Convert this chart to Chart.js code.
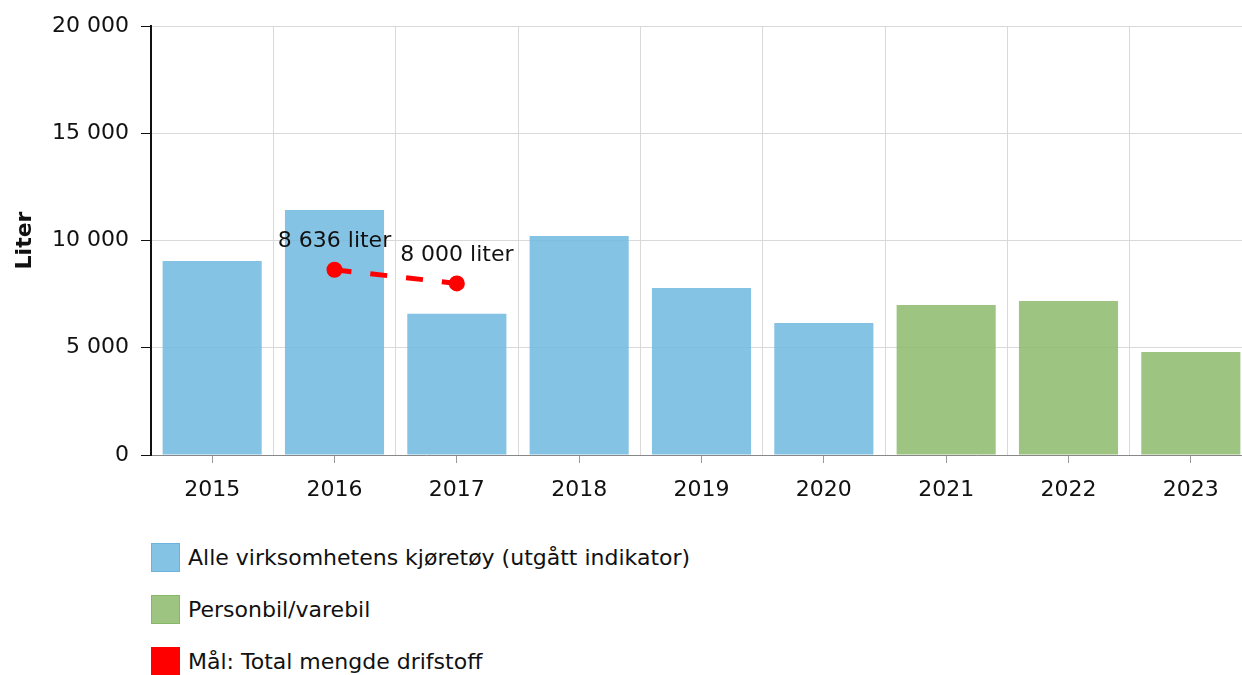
<!DOCTYPE html>
<html>
<head>
<meta charset="utf-8">
<script src="https://cdn.jsdelivr.net/npm/chart.js@4"></script>
<style>
  html, body { margin: 0; padding: 0; background: #fff; overflow: hidden; }
  #wrap { position: relative; width: 1242px; height: 675px; overflow: hidden; }
  #c { position: absolute; left: 0; top: 0; }
  #legend { position: absolute; left: 151px; top: 543px; font: 22px "DejaVu Sans", Verdana, sans-serif; color: #111; }
  .item { display: flex; align-items: center; height: 29px; margin-bottom: 23px; }
  .box { width: 27px; height: 27px; margin-right: 8px; border: 1px solid; }
</style>
</head>
<body>
<div id="wrap">
  <canvas id="c" width="1260" height="520" style="width:1260px;height:520px"></canvas>
  <div id="legend"></div>
</div>
<script>
const years = ['2015', '2016', '2017', '2018', '2019', '2020', '2021', '2022', '2023'];
const allVehicles = [9050, 11420, 6580, 10210, 7790, 6150, null, null, null];
const carVan = [null, null, null, null, null, null, 6990, 7180, 4800];
const target = [null, 8636, 8000, null, null, null, null, null, null];
const yTicks = [0, 5000, 10000, 15000, 20000];

const FONT = '"DejaVu Sans", Verdana, sans-serif';
const fmt = v => String(v).replace(/\B(?=(\d{3})+(?!\d))/g, ' ');

// labels over the target points
const pointLabels = {
  id: 'pointLabels',
  afterDatasetsDraw(chart) {
    const ctx = chart.ctx;
    const meta = chart.getDatasetMeta(2);
    ctx.save();
    ctx.font = '22px ' + FONT;
    ctx.fillStyle = '#111';
    ctx.textAlign = 'center';
    ctx.textBaseline = 'middle';
    meta.data.forEach((pt, i) => {
      const v = target[i];
      if (v == null) return;
      ctx.fillText(fmt(v) + ' liter', pt.x, pt.y - 28);
    });
    ctx.restore();
  }
};

const chart = new Chart(document.getElementById('c'), {
  type: 'bar',
  data: {
    labels: years,
    datasets: [
      {
        label: 'Alle virksomhetens kjøretøy (utgått indikator)',
        data: allVehicles,
        backgroundColor: 'rgba(112,184,223,0.85)',
        borderColor: '#6bb3dc',
        grouped: false,
        categoryPercentage: 1,
        barPercentage: 0.81,
        order: 2
      },
      {
        label: 'Personbil/varebil',
        data: carVan,
        backgroundColor: 'rgba(140,186,106,0.85)',
        borderColor: '#86b866',
        grouped: false,
        categoryPercentage: 1,
        barPercentage: 0.81,
        order: 2
      },
      {
        type: 'line',
        label: 'Mål: Total mengde drifstoff',
        data: target,
        borderColor: '#ff0000',
        backgroundColor: '#ff0000',
        borderWidth: 5,
        borderDash: [17, 19],
        pointRadius: 8,
        pointBackgroundColor: '#ff0000',
        pointBorderWidth: 0,
        spanGaps: false,
        order: 1
      }
    ]
  },
  options: {
    responsive: false,
    animation: false,
    layout: { padding: { top: 26, right: 0, left: 0, bottom: 0 } },
    plugins: {
      legend: { display: false },
      tooltip: { enabled: false }
    },
    scales: {
      x: {
        offset: true,
        grid: { offset: false, drawOnChartArea: false, color: '#999', tickLength: 8 },
        border: { color: '#888', width: 1 },
        ticks: { color: '#111', font: { family: FONT, size: 22 }, padding: 14 },
        afterFit(scale) { scale.height = 65; }
      },
      x2: {
        position: 'top',
        offset: true,
        labels: years,
        grid: { offset: true, drawTicks: false, color: '#d9d9d9' },
        border: { display: false },
        ticks: { display: false }
      },
      y: {
        min: 0,
        max: 20000,
        afterBuildTicks(scale) { scale.ticks = yTicks.map(v => ({ value: v })); },
        grid: { color: '#d9d9d9', tickColor: '#111', tickLength: 10 },
        border: { color: '#111', width: 2 },
        ticks: { color: '#111', font: { family: FONT, size: 22 }, padding: 12, callback: v => fmt(v) },
        title: { display: true, text: 'Liter', color: '#111', font: { family: FONT, size: 22, weight: 'bold' }, padding: { top: 12 } },
        afterFit(scale) { scale.width = 151; }
      }
    }
  },
  plugins: [pointLabels]
});

// legend as a vertical list under the chart
const legend = document.getElementById('legend');
chart.data.datasets.forEach(ds => {
  const item = document.createElement('div');
  item.className = 'item';
  const box = document.createElement('span');
  box.className = 'box';
  box.style.background = ds.backgroundColor;
  box.style.borderColor = ds.borderColor;
  const txt = document.createElement('span');
  txt.textContent = ds.label;
  item.appendChild(box);
  item.appendChild(txt);
  legend.appendChild(item);
});
</script>
</body>
</html>
